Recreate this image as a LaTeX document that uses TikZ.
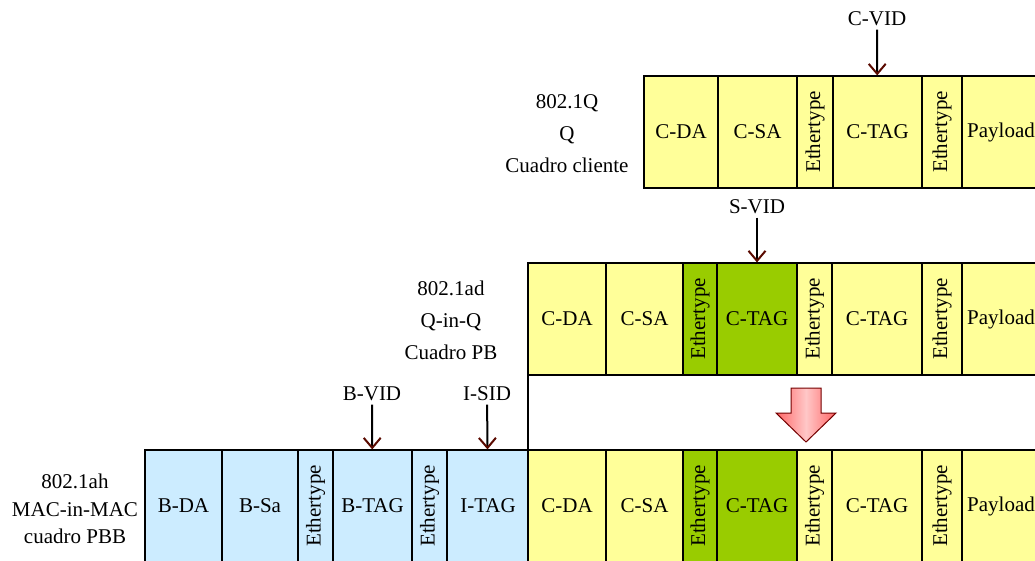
\documentclass[tikz,border=0pt]{standalone}
\usepackage{fontspec}
\setmainfont{Liberation Serif}
\usepackage{graphicx}
\usetikzlibrary{arrows.meta}
\definecolor{cyellow}{HTML}{FFFF99}
\definecolor{cgreen}{HTML}{99CC00}
\definecolor{cblue}{HTML}{CCECFF}
\definecolor{tipred}{HTML}{5A0A00}
\tikzset{cell/.style = {draw, line width = 1.2pt, minimum height = 112pt, inner sep = 0pt, fill = cyellow}}
\tikzset{green/.style = {fill = cgreen}}
\tikzset{blue/.style = {fill = cblue}}
\tikzset{vid/.style = {line width = 2pt, -{Straight Barb[length = 10pt, width = 17pt, line width = 2pt, color = tipred]}}}
\tikzset{std/.style = {align = center, inner sep = 0pt}}
\newcommand{\eth}{\rotatebox{90}{Ethertype}}

\begin{document}
\begin{tikzpicture}[x = 1pt, y = -1pt, font = \fontsize{21}{32}\selectfont]
			\useasboundingbox (0, 0) rectangle (1035, 561);
			\clip (0, 0) rectangle (1035, 561);

			% 802.1Q
			\node[std] (q) at (567, 134) {802.1Q\\Q\\Cuadro cliente};
			\node[cell, minimum width = 74pt] (qda) at (681, 132) {C-DA};
			\node[cell, minimum width = 79pt] (qsa) at (757.5, 132) {C-SA};
			\node[cell, minimum width = 36pt] (qe1) at (815, 132) {\eth};
			\node[cell, minimum width = 89pt] (qtag) at (877.5, 132) {C-TAG};
			\node[cell, minimum width = 40pt] (qe2) at (942, 132) {\eth};
			\node[cell, minimum width = 78pt] (qpay) at (1001, 132) {Payload};
			\node (cvid) at (877, 19) {C-VID};

			% 802.1ad
			\draw[line width = 1.2pt] (528, 263) rectangle (1040, 450);
			\node[std] (ad) at (451, 320) {802.1ad\\Q-in-Q\\Cuadro PB};
			\node[cell, minimum width = 78pt] (adda) at (567, 319) {C-DA};
			\node[cell, minimum width = 77pt] (adsa) at (644.5, 319) {C-SA};
			\node[cell, green, minimum width = 34pt] (ade1) at (700, 319) {\eth};
			\node[cell, green, minimum width = 80pt] (adtag1) at (757, 319) {C-TAG};
			\node[cell, minimum width = 35pt] (ade2) at (814.5, 319) {\eth};
			\node[cell, minimum width = 90pt] (adtag2) at (877, 319) {C-TAG};
			\node[cell, minimum width = 40pt] (ade3) at (942, 319) {\eth};
			\node[cell, minimum width = 78pt] (adpay) at (1001, 319) {Payload};
			\node (svid) at (757, 207) {S-VID};

			% 802.1ah
			\node[std, font = \fontsize{21}{27.5}\selectfont] (ah) at (75, 509) {802.1ah\\MAC-in-MAC\\cuadro PBB};
			\node[cell, blue, minimum width = 77pt] (ahbda) at (183.5, 506) {B-DA};
			\node[cell, blue, minimum width = 76pt] (ahbsa) at (260, 506) {B-Sa};
			\node[cell, blue, minimum width = 35pt] (ahbe1) at (315.5, 506) {\eth};
			\node[cell, blue, minimum width = 79pt] (ahbtag) at (372.5, 506) {B-TAG};
			\node[cell, blue, minimum width = 35pt] (ahbe2) at (429.5, 506) {\eth};
			\node[cell, blue, minimum width = 82pt] (ahitag) at (488, 506) {I-TAG};
			\node[cell, minimum width = 78pt] (ahda) at (567, 506) {C-DA};
			\node[cell, minimum width = 77pt] (ahsa) at (644.5, 506) {C-SA};
			\node[cell, green, minimum width = 34pt] (ahe1) at (700, 506) {\eth};
			\node[cell, green, minimum width = 80pt] (ahtag1) at (757, 506) {C-TAG};
			\node[cell, minimum width = 35pt] (ahe2) at (814.5, 506) {\eth};
			\node[cell, minimum width = 90pt] (ahtag2) at (877, 506) {C-TAG};
			\node[cell, minimum width = 40pt] (ahe3) at (942, 506) {\eth};
			\node[cell, minimum width = 78pt] (ahpay) at (1001, 506) {Payload};
			\node (bvid) at (372, 394) {B-VID};
			\node (isid) at (487, 394) {I-SID};

			\draw[vid] (cvid) -- (qtag);
			\draw[vid] (svid) -- (adtag1);
			\draw[vid] (bvid) -- (ahbtag);
			\draw[vid] (isid) -- (ahitag);

			% block arrow
			\shade[left color = red!60!white, right color = red!60!white, middle color = red!22!white]
				(791, 388) -- (821, 388) -- (821, 413) -- (836, 413) -- (806, 442) -- (776, 413) -- (791, 413) -- cycle;
			\draw[line width = 1pt, red!45!black]
				(791, 388) -- (821, 388) -- (821, 413) -- (836, 413) -- (806, 442) -- (776, 413) -- (791, 413) -- cycle;
		\end{tikzpicture}
\end{document}
